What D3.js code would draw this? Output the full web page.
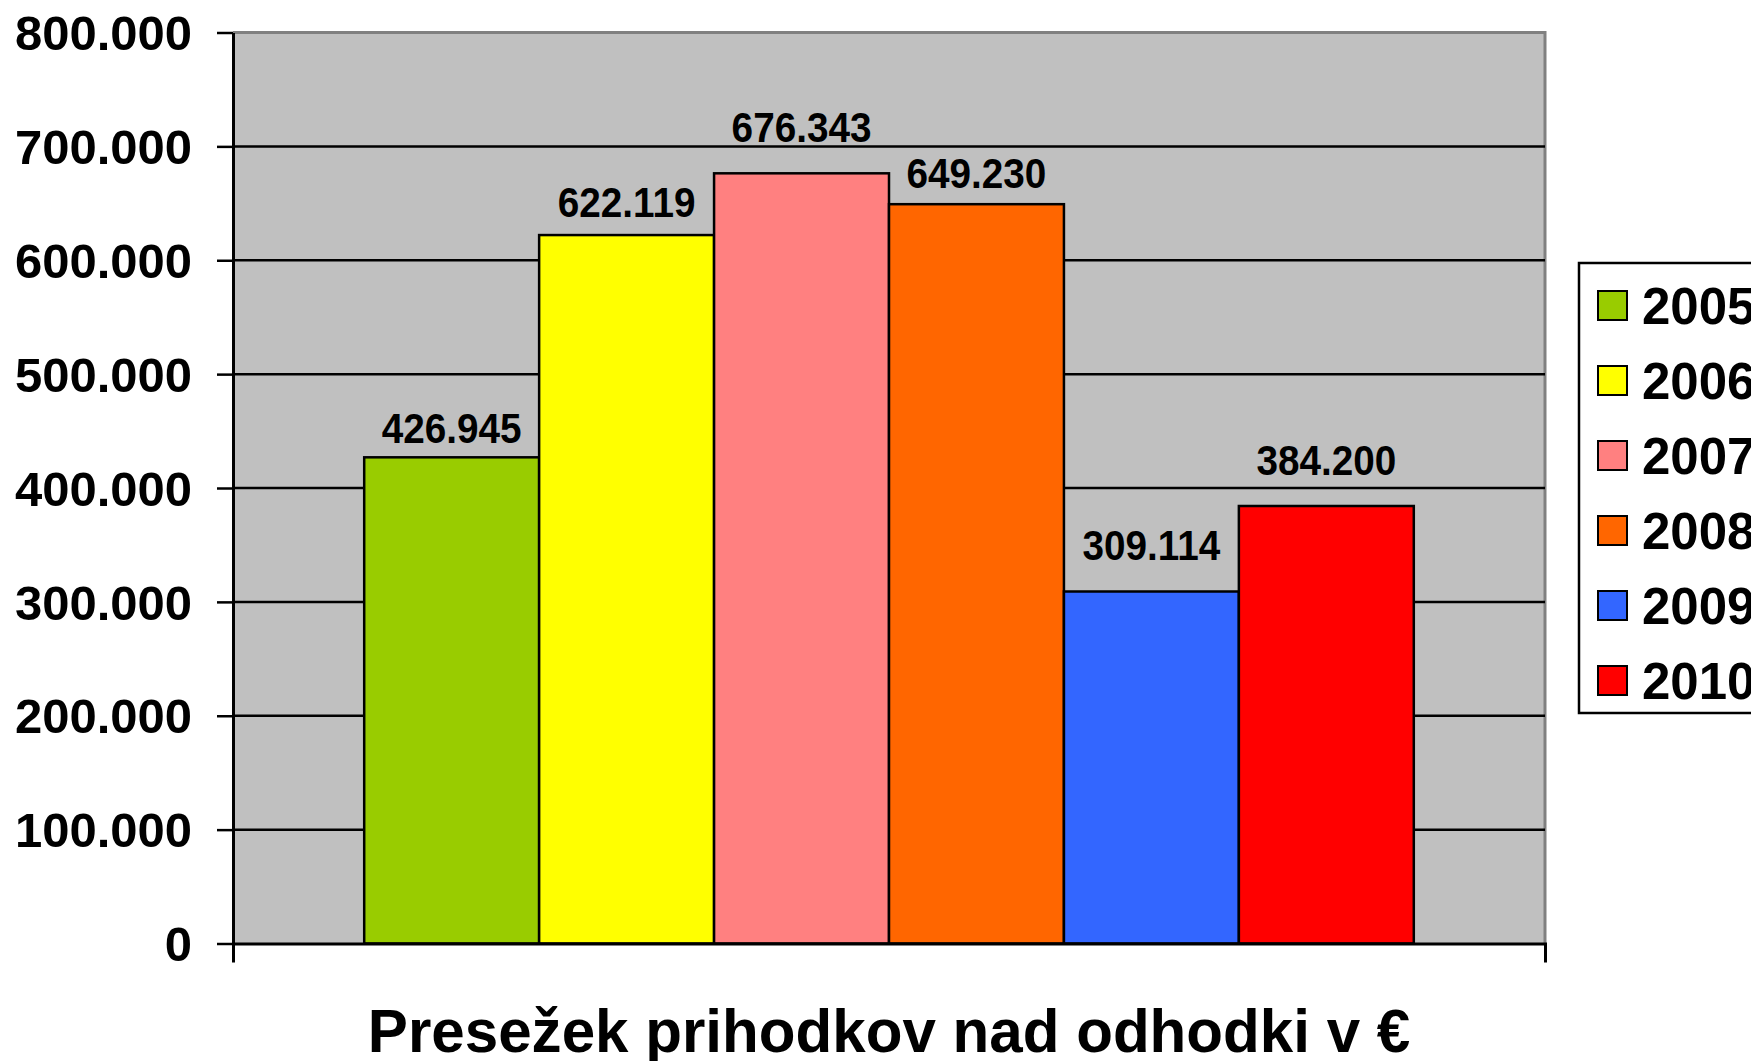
<!DOCTYPE html>
<html>
<head>
<meta charset="utf-8">
<script src="https://cdn.jsdelivr.net/npm/d3@7"></script>
<style>
  body { margin: 0; background: #fff; }
  text { font-family: "Liberation Sans", Arial, sans-serif; font-weight: bold; fill: #000; }
</style>
</head>
<body>
<div id="chart"></div>
<script>
  var category = "Presežek prihodkov nad odhodki v €";
  var years = ["2005", "2006", "2007", "2008", "2009", "2010"];
  var values = [426945, 622119, 676343, 649230, 309114, 384200];
  var colors = ["#99cc00", "#ffff00", "#ff8080", "#ff6600", "#3366ff", "#ff0000"];
  var yTicks = [0, 100000, 200000, 300000, 400000, 500000, 600000, 700000, 800000];
  // how far each label sits above its bar (labels were nudged by hand in the original)
  var labelGap = [14, 18, 31, 16, 31, 31];

(function() {
  var width = 1751,
      height = 1061;

  var plotLeft = 233, plotRight = 1545, plotTop = 32.5, plotBottom = 943.5;

  var locale = d3.formatLocale({ decimal: ",", thousands: ".", grouping: [3], currency: ["", "€"] });
  var fmt = locale.format(",");

  var svg = d3.select("#chart")
    .append("svg")
    .attr("width", width)
    .attr("height", height)

  var y = d3.scaleLinear().domain([0, 800000]).range([plotBottom, plotTop])

  var x0 = d3.scaleBand()
    .domain([category])
    .range([plotLeft, plotRight])
    .paddingInner(0)
    .paddingOuter(0.125)

  var x1 = d3.scaleBand()
    .domain(years)
    .range([0, x0.bandwidth()])

  // plot background
  svg.append("rect")
    .attr("x", plotLeft)
    .attr("y", plotTop)
    .attr("width", plotRight - plotLeft)
    .attr("height", plotBottom - plotTop)
    .attr("fill", "#c0c0c0")

  // top and right border
  svg.append("path")
    .attr("d", "M" + plotLeft + "," + plotTop + "H" + plotRight + "V" + plotBottom)
    .attr("fill", "none")
    .attr("stroke", "#808080")
    .attr("stroke-width", 3)

  // gridlines
  svg.selectAll(".grid")
    .data(yTicks.filter(function(d) { return d > 0 && d < 800000 }))
    .enter().append("line")
    .attr("class", "grid")
    .attr("x1", plotLeft)
    .attr("x2", plotRight)
    .attr("y1", function(d) { return y(d) })
    .attr("y2", function(d) { return y(d) })
    .attr("stroke", "#000")
    .attr("stroke-width", 2.5)

  // bars
  svg.selectAll(".bar")
    .data(values)
    .enter().append("rect")
    .attr("class", "bar")
    .attr("x", function(d, i) { return x0(category) + x1(years[i]) })
    .attr("y", function(d) { return y(d) })
    .attr("width", x1.bandwidth())
    .attr("height", function(d) { return plotBottom - y(d) })
    .attr("fill", function(d, i) { return colors[i] })
    .attr("stroke", "#000")
    .attr("stroke-width", 2.5)

  // value labels
  svg.selectAll(".label")
    .data(values)
    .enter().append("text")
    .attr("class", "label")
    .attr("text-anchor", "middle")
    .attr("font-size", 43)
    .attr("transform", function(d, i) {
      var cx = x0(category) + x1(years[i]) + x1.bandwidth() / 2;
      return "translate(" + cx + "," + (y(d) - labelGap[i]) + ") scale(0.9,1)"
    })
    .text(function(d) { return fmt(d) })

  // y axis
  var yAxis = svg.append("g")
    .attr("transform", "translate(" + plotLeft + ",0)")
    .call(d3.axisLeft(y)
      .tickValues(yTicks)
      .tickSize(16)
      .tickSizeOuter(0)
      .tickPadding(25)
      .tickFormat(fmt))

  yAxis.select(".domain").attr("stroke", "#000").attr("stroke-width", 3)
  yAxis.selectAll(".tick line").attr("stroke", "#000").attr("stroke-width", 2.5)
  yAxis.selectAll(".tick text")
    .attr("font-size", 49)
    .attr("dy", "0.35em")
  yAxis.attr("font-family", null).attr("font-size", null)

  // x axis
  var xAxis = svg.append("g")
    .attr("transform", "translate(0," + plotBottom + ")")
    .call(d3.axisBottom(x0)
      .tickSizeInner(0)
      .tickSizeOuter(19))

  xAxis.attr("font-family", null).attr("font-size", null)
  xAxis.select(".domain").attr("stroke", "#000").attr("stroke-width", 3)
  xAxis.selectAll(".tick text")
    .attr("font-size", 62)
    .attr("y", 1052 - plotBottom)
    .attr("dy", 0)
    .attr("transform", "scale(0.97,1)")

  // legend
  var legend = svg.append("g")

  legend.append("rect")
    .attr("x", 1579)
    .attr("y", 263)
    .attr("width", 220)
    .attr("height", 450)
    .attr("fill", "#fff")
    .attr("stroke", "#000")
    .attr("stroke-width", 2.5)

  var items = legend.selectAll(".item")
    .data(years)
    .enter().append("g")
    .attr("class", "item")
    .attr("transform", function(d, i) { return "translate(1598," + (305.5 + i * 75) + ")" })

  items.append("rect")
    .attr("x", 0)
    .attr("y", -14.5)
    .attr("width", 29)
    .attr("height", 29)
    .attr("fill", function(d, i) { return colors[i] })
    .attr("stroke", "#000")
    .attr("stroke-width", 2)

  items.append("text")
    .attr("x", 44)
    .attr("dy", "0.36em")
    .attr("font-size", 51)
    .text(function(d) { return d })
})();
</script>
</body>
</html>
